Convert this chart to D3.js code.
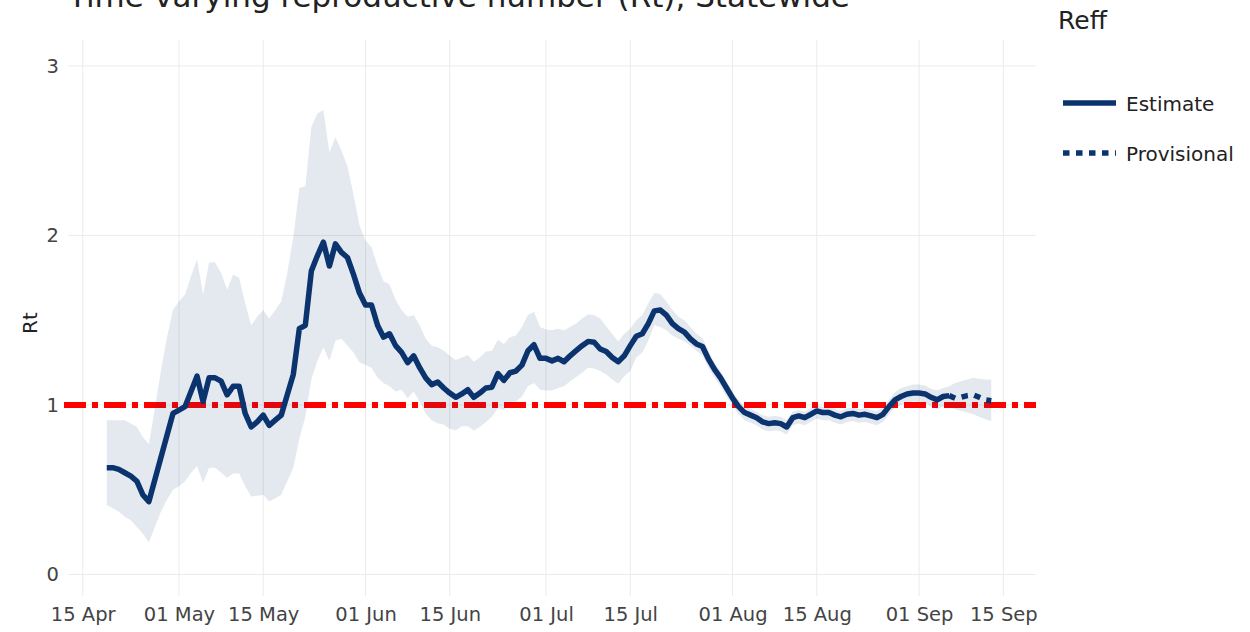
<!DOCTYPE html>
<html>
<head>
<meta charset="utf-8">
<script src="https://cdn.jsdelivr.net/npm/d3@7"></script>
<style>
  body { margin: 0; background: #fff; }
  svg { display: block; font-family: "DejaVu Sans", Verdana, sans-serif; }
</style>
</head>
<body>
<svg id="chart" width="1250" height="632"></svg>
<script>
// Daily series, first value on startDate; the last days are provisional.
const startDate = "2020-04-19";
const provisionalStart = "2020-09-06";

const rtEstimate = [
  0.63, 0.63, 0.62, 0.60, 0.58, 0.55, 0.47, 0.43, 0.56, 0.69, 0.82, 0.95,
  0.97, 0.99, 1.08, 1.17, 1.02, 1.16, 1.16, 1.14, 1.06, 1.11, 1.11, 0.95,
  0.87, 0.90, 0.94, 0.88, 0.91, 0.94, 1.06, 1.18, 1.45, 1.47, 1.79, 1.88,
  1.96, 1.82, 1.95, 1.90, 1.87, 1.77, 1.66, 1.59, 1.59, 1.47, 1.40, 1.42,
  1.35, 1.31, 1.25, 1.29, 1.22, 1.16, 1.12, 1.135, 1.10, 1.07, 1.045, 1.065,
  1.09, 1.045, 1.07, 1.10, 1.105, 1.185, 1.145, 1.19, 1.20, 1.235, 1.32, 1.355,
  1.275, 1.275, 1.26, 1.275, 1.255, 1.29, 1.32, 1.35, 1.375, 1.37, 1.33, 1.315,
  1.28, 1.255, 1.29, 1.35, 1.405, 1.42, 1.48, 1.555, 1.56, 1.53, 1.48, 1.45,
  1.43, 1.39, 1.36, 1.345, 1.27, 1.21, 1.16, 1.10, 1.04, 0.99, 0.955, 0.94,
  0.925, 0.90, 0.89, 0.895, 0.89, 0.87, 0.925, 0.935, 0.925, 0.945, 0.965, 0.955,
  0.955, 0.94, 0.93, 0.945, 0.95, 0.94, 0.945, 0.935, 0.925, 0.945, 0.99, 1.03,
  1.05, 1.065, 1.07, 1.07, 1.065, 1.045, 1.03, 1.05, 1.055, 1.04, 1.045, 1.055,
  1.06, 1.045, 1.03, 1.025
];

const rtUpper = [
  0.91, 0.91, 0.91, 0.91, 0.89, 0.87, 0.81, 0.77, 0.98, 1.20, 1.40, 1.56,
  1.61, 1.65, 1.76, 1.86, 1.65, 1.84, 1.84, 1.78, 1.68, 1.77, 1.75, 1.60,
  1.47, 1.52, 1.56, 1.51, 1.56, 1.61, 1.78, 1.99, 2.28, 2.29, 2.64, 2.72,
  2.74, 2.49, 2.58, 2.50, 2.41, 2.24, 2.06, 1.97, 1.93, 1.82, 1.73, 1.71,
  1.62, 1.56, 1.52, 1.53, 1.47, 1.39, 1.35, 1.34, 1.32, 1.29, 1.265, 1.28,
  1.295, 1.255, 1.28, 1.315, 1.32, 1.385, 1.36, 1.40, 1.41, 1.46, 1.53, 1.55,
  1.46, 1.445, 1.44, 1.45, 1.44, 1.46, 1.48, 1.51, 1.535, 1.53, 1.51, 1.465,
  1.42, 1.375, 1.42, 1.45, 1.50, 1.53, 1.60, 1.66, 1.655, 1.61, 1.56, 1.52,
  1.50, 1.46, 1.42, 1.395, 1.32, 1.25, 1.20, 1.14, 1.08, 1.03, 0.99, 0.975,
  0.96, 0.94, 0.93, 0.935, 0.93, 0.91, 0.96, 0.97, 0.96, 0.98, 1.00, 0.99,
  0.99, 0.975, 0.965, 0.98, 0.985, 0.975, 0.98, 0.97, 0.965, 0.985, 1.03, 1.075,
  1.10, 1.11, 1.12, 1.12, 1.115, 1.095, 1.085, 1.10, 1.11, 1.13, 1.14, 1.15,
  1.16, 1.155, 1.15, 1.15
];

const rtLower = [
  0.41, 0.39, 0.37, 0.34, 0.32, 0.28, 0.24, 0.19, 0.28, 0.37, 0.44, 0.50,
  0.52, 0.55, 0.60, 0.64, 0.54, 0.63, 0.63, 0.60, 0.57, 0.595, 0.595, 0.52,
  0.46, 0.465, 0.47, 0.43, 0.45, 0.47, 0.55, 0.63, 0.80, 0.93, 1.15, 1.26,
  1.34, 1.26, 1.38, 1.39, 1.35, 1.31, 1.25, 1.235, 1.22, 1.16, 1.13, 1.11,
  1.08, 1.09, 1.04, 1.08, 1.02, 0.95, 0.91, 0.89, 0.885, 0.86, 0.85, 0.875,
  0.875, 0.85, 0.87, 0.90, 0.93, 0.98, 0.97, 1.01, 1.02, 1.05, 1.11, 1.13,
  1.09, 1.085, 1.085, 1.10, 1.11, 1.14, 1.165, 1.19, 1.22, 1.215, 1.20, 1.18,
  1.15, 1.125, 1.17, 1.20, 1.28, 1.31, 1.38, 1.47, 1.46, 1.44, 1.41, 1.39,
  1.375, 1.35, 1.32, 1.29, 1.22, 1.16, 1.11, 1.05, 0.995, 0.945, 0.91, 0.895,
  0.88, 0.855, 0.845, 0.85, 0.845, 0.825, 0.88, 0.89, 0.88, 0.90, 0.92, 0.91,
  0.91, 0.895, 0.885, 0.90, 0.905, 0.895, 0.90, 0.89, 0.88, 0.90, 0.945, 0.985,
  1.00, 1.015, 1.02, 1.02, 1.015, 0.99, 0.975, 0.99, 0.99, 0.975, 0.965, 0.955,
  0.945, 0.93, 0.915, 0.905
];

const xTickDates = [
  "2020-04-15", "2020-05-01", "2020-05-15", "2020-06-01", "2020-06-15", "2020-07-01",
  "2020-07-15", "2020-08-01", "2020-08-15", "2020-09-01", "2020-09-15"
];
const yTickValues = [0, 1, 2, 3];
const thresholdValue = 1;

const titleText = "Time-varying reproductive number (Rt), Statewide";
const yAxisTitle = "Rt";
const legendTitle = "Reff";
const legendLabels = ["Estimate", "Provisional"];

// ---- layout ----
const plot = { left: 64, right: 1036, top: 40, bottom: 596 };
const navy = "#0b336e";
const gridColor = "#ebebeb";
const tickColor = "#444";

const parse = d3.utcParse("%Y-%m-%d");
const t0 = parse(startDate);
const tProv = parse(provisionalStart);
const rows = rtEstimate.map((v, i) => ({
  date: d3.utcDay.offset(t0, i),
  rt: v,
  lo: rtLower[i],
  hi: rtUpper[i]
}));

const x = d3.scaleUtc()
  .domain([new Date(Date.UTC(2020, 3, 11, 21, 24)), new Date(Date.UTC(2020, 8, 20, 10, 20))])
  .range([plot.left, plot.right]);
const y = d3.scaleLinear()
  .domain([-0.127, 3.153])
  .range([plot.bottom, plot.top]);

const svg = d3.select("#chart");

// gridlines
const grid = svg.append("g").attr("stroke", gridColor).attr("stroke-width", 1);
grid.selectAll("line.v").data(xTickDates.map(parse)).join("line")
  .attr("class", "v")
  .attr("x1", d => x(d)).attr("x2", d => x(d))
  .attr("y1", plot.top).attr("y2", plot.bottom);
grid.selectAll("line.h").data(yTickValues).join("line")
  .attr("class", "h")
  .attr("x1", plot.left + 4).attr("x2", plot.right)
  .attr("y1", d => y(d)).attr("y2", d => y(d));

// threshold at Rt = 1
svg.append("line")
  .attr("x1", plot.left).attr("x2", plot.right)
  .attr("y1", y(thresholdValue)).attr("y2", y(thresholdValue))
  .attr("stroke", "#ff0000")
  .attr("stroke-width", 6)
  .attr("stroke-dasharray", "22,6,6,6");

// credible interval band
const band = d3.area()
  .x(d => x(d.date))
  .y0(d => y(d.lo))
  .y1(d => y(d.hi));
svg.append("path")
  .datum(rows)
  .attr("d", band)
  .attr("fill", "rgba(13,53,114,0.11)");

// estimate and provisional lines
const line = d3.line().x(d => x(d.date)).y(d => y(d.rt));
const solid = rows.filter(d => d.date <= tProv);
const prov = rows.filter(d => d.date >= tProv);
svg.append("path")
  .datum(solid)
  .attr("d", line)
  .attr("fill", "none")
  .attr("stroke", navy)
  .attr("stroke-width", 5.5)
  .attr("stroke-linejoin", "round");
svg.append("path")
  .datum(prov)
  .attr("d", line)
  .attr("fill", "none")
  .attr("stroke", navy)
  .attr("stroke-width", 5.5)
  .attr("stroke-dasharray", "6.5,6.5");

// axes
const xAxis = d3.axisBottom(x)
  .tickValues(xTickDates.map(parse))
  .tickFormat(d3.utcFormat("%d %b"))
  .tickSize(0)
  .tickPadding(11);
const gx = svg.append("g")
  .attr("transform", `translate(0,${plot.bottom})`)
  .call(xAxis);
gx.select(".domain").remove();
gx.selectAll("text").attr("fill", tickColor).attr("font-size", 19.5)
  .attr("font-family", "DejaVu Sans, Verdana, sans-serif");

const yAxis = d3.axisLeft(y)
  .tickValues(yTickValues)
  .tickFormat(d3.format("d"))
  .tickSize(0)
  .tickPadding(5);
const gy = svg.append("g")
  .attr("transform", `translate(${plot.left},0)`)
  .call(yAxis);
gy.select(".domain").remove();
gy.selectAll("text").attr("fill", tickColor).attr("font-size", 19.5)
  .attr("font-family", "DejaVu Sans, Verdana, sans-serif");

// axis title
svg.append("text")
  .attr("transform", "translate(37,323) rotate(-90)")
  .attr("text-anchor", "middle")
  .attr("font-size", 20)
  .attr("fill", "#222")
  .text(yAxisTitle);

// chart title (sits partly above the top edge)
svg.append("text")
  .attr("x", 68).attr("y", 7)
  .attr("font-size", 31)
  .attr("fill", "#222")
  .text(titleText);

// legend
const lg = svg.append("g");
lg.append("text")
  .attr("x", 1058).attr("y", 29)
  .attr("font-size", 25)
  .attr("fill", "#222")
  .text(legendTitle);
const legendRows = [
  { label: legendLabels[0], dash: null, y: 103 },
  { label: legendLabels[1], dash: "6.5,6.5", y: 153 }
];
legendRows.forEach(r => {
  lg.append("line")
    .attr("x1", 1063).attr("x2", 1116)
    .attr("y1", r.y).attr("y2", r.y)
    .attr("stroke", navy)
    .attr("stroke-width", 5.5)
    .attr("stroke-dasharray", r.dash);
  lg.append("text")
    .attr("x", 1126).attr("y", r.y + 7.5)
    .attr("font-size", 20)
    .attr("fill", "#222")
    .text(r.label);
});
</script>
</body>
</html>
